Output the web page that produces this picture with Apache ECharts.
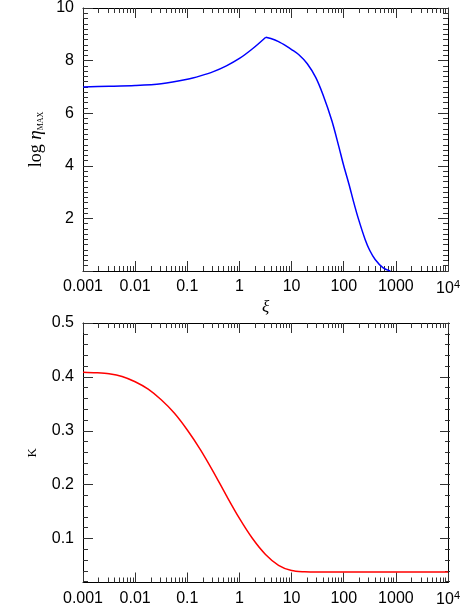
<!DOCTYPE html>
<html><head><meta charset="utf-8">
<script src="https://cdn.jsdelivr.net/npm/echarts@6/dist/echarts.min.js"></script>
<style>html,body{margin:0;padding:0;background:#fff}#c{width:463px;height:608px}</style>
</head><body><div id="c"></div>
<script>
// ---- data ----
const xiTop = [0.001, 0.00316, 0.01, 0.0316, 0.1, 0.178, 0.316, 0.562, 1.0, 1.78, 3.2, 4.0, 5.62, 7.94, 10, 13.8, 20, 29, 40, 59, 80, 100, 126, 155, 190, 257, 316, 400, 562, 780];
const etaTop = [7.00, 7.02, 7.05, 7.12, 7.29, 7.42, 7.58, 7.80, 8.08, 8.45, 8.89, 8.84, 8.72, 8.55, 8.42, 8.22, 7.88, 7.36, 6.70, 5.72, 4.75, 4.00, 3.30, 2.62, 2.00, 1.20, 0.78, 0.44, 0.13, 0.0];
const xiBottom = [0.001, 0.00178, 0.00316, 0.00562, 0.01, 0.0178, 0.0316, 0.0562, 0.1, 0.178, 0.316, 0.562, 1, 1.78, 3.16, 5.62, 10, 17.8, 31.6, 100, 1000, 10000];
const kBottom = [0.407, 0.406, 0.404, 0.399, 0.389, 0.375, 0.355, 0.330, 0.298, 0.261, 0.219, 0.174, 0.131, 0.093, 0.063, 0.0425, 0.0325, 0.0302, 0.0297, 0.0297, 0.0297, 0.0297];
const xTickLabels = ['0.001', '0.01', '0.1', '1', '10', '100', '1000', '{b|10}{s|4}'];
const etaTicks = {min: 0, max: 10, step: 2};
const kTicks = {min: 0.01, max: 0.5, step: 0.1, minorStep: 0.02, fine: 0.01};

// ---- layout ----
const L = 83, W = 367, H = 264;
const topT = 7, botT = 323;
const kScale = H / (kTicks.max - kTicks.min);
const majorH = (kTicks.max - kTicks.step) * kScale;
const minorH = (kTicks.max - kTicks.minorStep) * kScale;

const SANS = 'Liberation Sans, Arial, sans-serif';
const SERIF = 'Liberation Serif, Times New Roman, serif';
const lineC = '#000', tickC = '#333';

function xLabel(v) {
  const e = Math.round(Math.log10(v));
  return xTickLabels[e + 3] || '';
}
function xAxisDef(grid, pos, labels, hidden) {
  return {
    type: 'log', logBase: 10, gridIndex: grid, position: pos, min: 0.001, max: 10000, splitNumber: 7,
    show: !hidden,
    axisLine: {show: true, onZero: false, lineStyle: {color: lineC, width: 1}},
    axisTick: {show: true, inside: true, length: 10, lineStyle: {color: tickC}},
    minorTick: {show: true, splitNumber: 9, length: 5, lineStyle: {color: tickC}},
    splitLine: {show: false}, minorSplitLine: {show: false},
    axisLabel: {show: labels, margin: 8, color: '#000', fontFamily: SANS, fontSize: 16, formatter: xLabel,
      rich: {b: {fontFamily: SANS, fontSize: 16, color: '#000'}, s: {fontFamily: SANS, fontSize: 11, color: '#000', verticalAlign: 'top', padding: [0, 0, 8, 0]}}},
    name: ''
  };
}
function kAxis(grid, pos, min, interval, tickLen, labels, line) {
  return {type: 'value', gridIndex: grid, position: pos, min: min, max: kTicks.max, interval: interval, scale: true,
    axisLine: {show: line, onZero: false, lineStyle: {color: lineC}},
    axisTick: {show: tickLen > 0, inside: true, length: tickLen, lineStyle: {color: tickC}},
    splitLine: {show: false},
    axisLabel: labels ? {margin: 9, color: '#000', fontFamily: SANS, fontSize: 16, formatter: v => v.toFixed(1)} : {show: false}};
}
const peak = etaTop.indexOf(Math.max(...etaTop));
const topPts = xiTop.map((x, i) => [x, etaTop[i]]);

const option = {
  animation: false,
  backgroundColor: '#fff',
  grid: [
    {left: L, top: topT, width: W, height: H},
    {left: L, top: botT, width: W, height: H},
    {left: L, top: botT, width: W, height: majorH},
    {left: L, top: botT, width: W, height: minorH}
  ],
  xAxis: [
    Object.assign(xAxisDef(0, 'bottom', true), {name: 'ξ', nameLocation: 'middle', nameGap: 28,
      nameTextStyle: {fontFamily: SERIF, fontStyle: 'italic', fontSize: 17, color: '#000'}}),
    xAxisDef(0, 'top', false),
    xAxisDef(1, 'bottom', true),
    xAxisDef(1, 'top', false),
    xAxisDef(2, 'bottom', false, true),
    xAxisDef(3, 'bottom', false, true)
  ],
  yAxis: [
    {type: 'value', gridIndex: 0, position: 'left', min: etaTicks.min, max: etaTicks.max, interval: etaTicks.step,
      axisLine: {show: true, onZero: false, lineStyle: {color: lineC}},
      axisTick: {show: true, inside: true, length: 10, lineStyle: {color: tickC}},
      minorTick: {show: true, splitNumber: 10, length: 5, lineStyle: {color: tickC}},
      splitLine: {show: false},
      axisLabel: {margin: 9, color: '#000', fontFamily: SANS, fontSize: 16, formatter: v => v === 0 ? '' : String(v)},
      name: '{n|log }{e|η}{s|MAX}', nameLocation: 'middle', nameGap: 36,
      nameTextStyle: {color: '#000', rich: {
        n: {fontFamily: SERIF, fontSize: 18, color: '#000'},
        e: {fontFamily: SERIF, fontStyle: 'italic', fontSize: 19, color: '#000'},
        s: {fontFamily: SERIF, fontSize: 8, color: '#000', verticalAlign: 'bottom', padding: [7, 0, 0, 0]}
      }}},
    {type: 'value', gridIndex: 0, position: 'right', min: etaTicks.min, max: etaTicks.max, interval: etaTicks.step,
      axisLine: {show: true, onZero: false, lineStyle: {color: lineC}},
      axisTick: {show: true, inside: true, length: 10, lineStyle: {color: tickC}},
      minorTick: {show: true, splitNumber: 10, length: 5, lineStyle: {color: tickC}},
      splitLine: {show: false}, axisLabel: {show: false}},
    // bottom panel data axes (frame)
    Object.assign(kAxis(1, 'left', kTicks.min, kTicks.fine, 0, false, true), {
      name: 'K', nameLocation: 'middle', nameGap: 44,
      nameTextStyle: {fontFamily: SERIF, fontSize: 13, color: '#000'}}),
    kAxis(1, 'right', kTicks.min, kTicks.fine, 0, false, true),
    // major ticks + labels
    kAxis(2, 'left', kTicks.step, kTicks.step, 10, true, false),
    kAxis(2, 'right', kTicks.step, kTicks.step, 10, false, false),
    // minor ticks
    kAxis(3, 'left', kTicks.minorStep, kTicks.minorStep, 5, false, false),
    kAxis(3, 'right', kTicks.minorStep, kTicks.minorStep, 5, false, false)
  ],
  series: [
    {type: 'line', xAxisIndex: 0, yAxisIndex: 0, data: topPts.slice(0, peak + 1),
      showSymbol: false, smooth: 0.3, lineStyle: {color: '#0000ff', width: 1.5}, clip: true},
    {type: 'line', xAxisIndex: 0, yAxisIndex: 0, data: topPts.slice(peak),
      showSymbol: false, smooth: 0.3, lineStyle: {color: '#0000ff', width: 1.5}, clip: true},
    {type: 'line', xAxisIndex: 2, yAxisIndex: 2, data: xiBottom.map((x, i) => [x, kBottom[i]]),
      showSymbol: false, smooth: 0.3, lineStyle: {color: '#ff0000', width: 1.5}, clip: true}
  ]
};
const chart = echarts.init(document.getElementById('c'), null, {renderer: 'canvas'});
chart.setOption(option);
</script></body></html>
